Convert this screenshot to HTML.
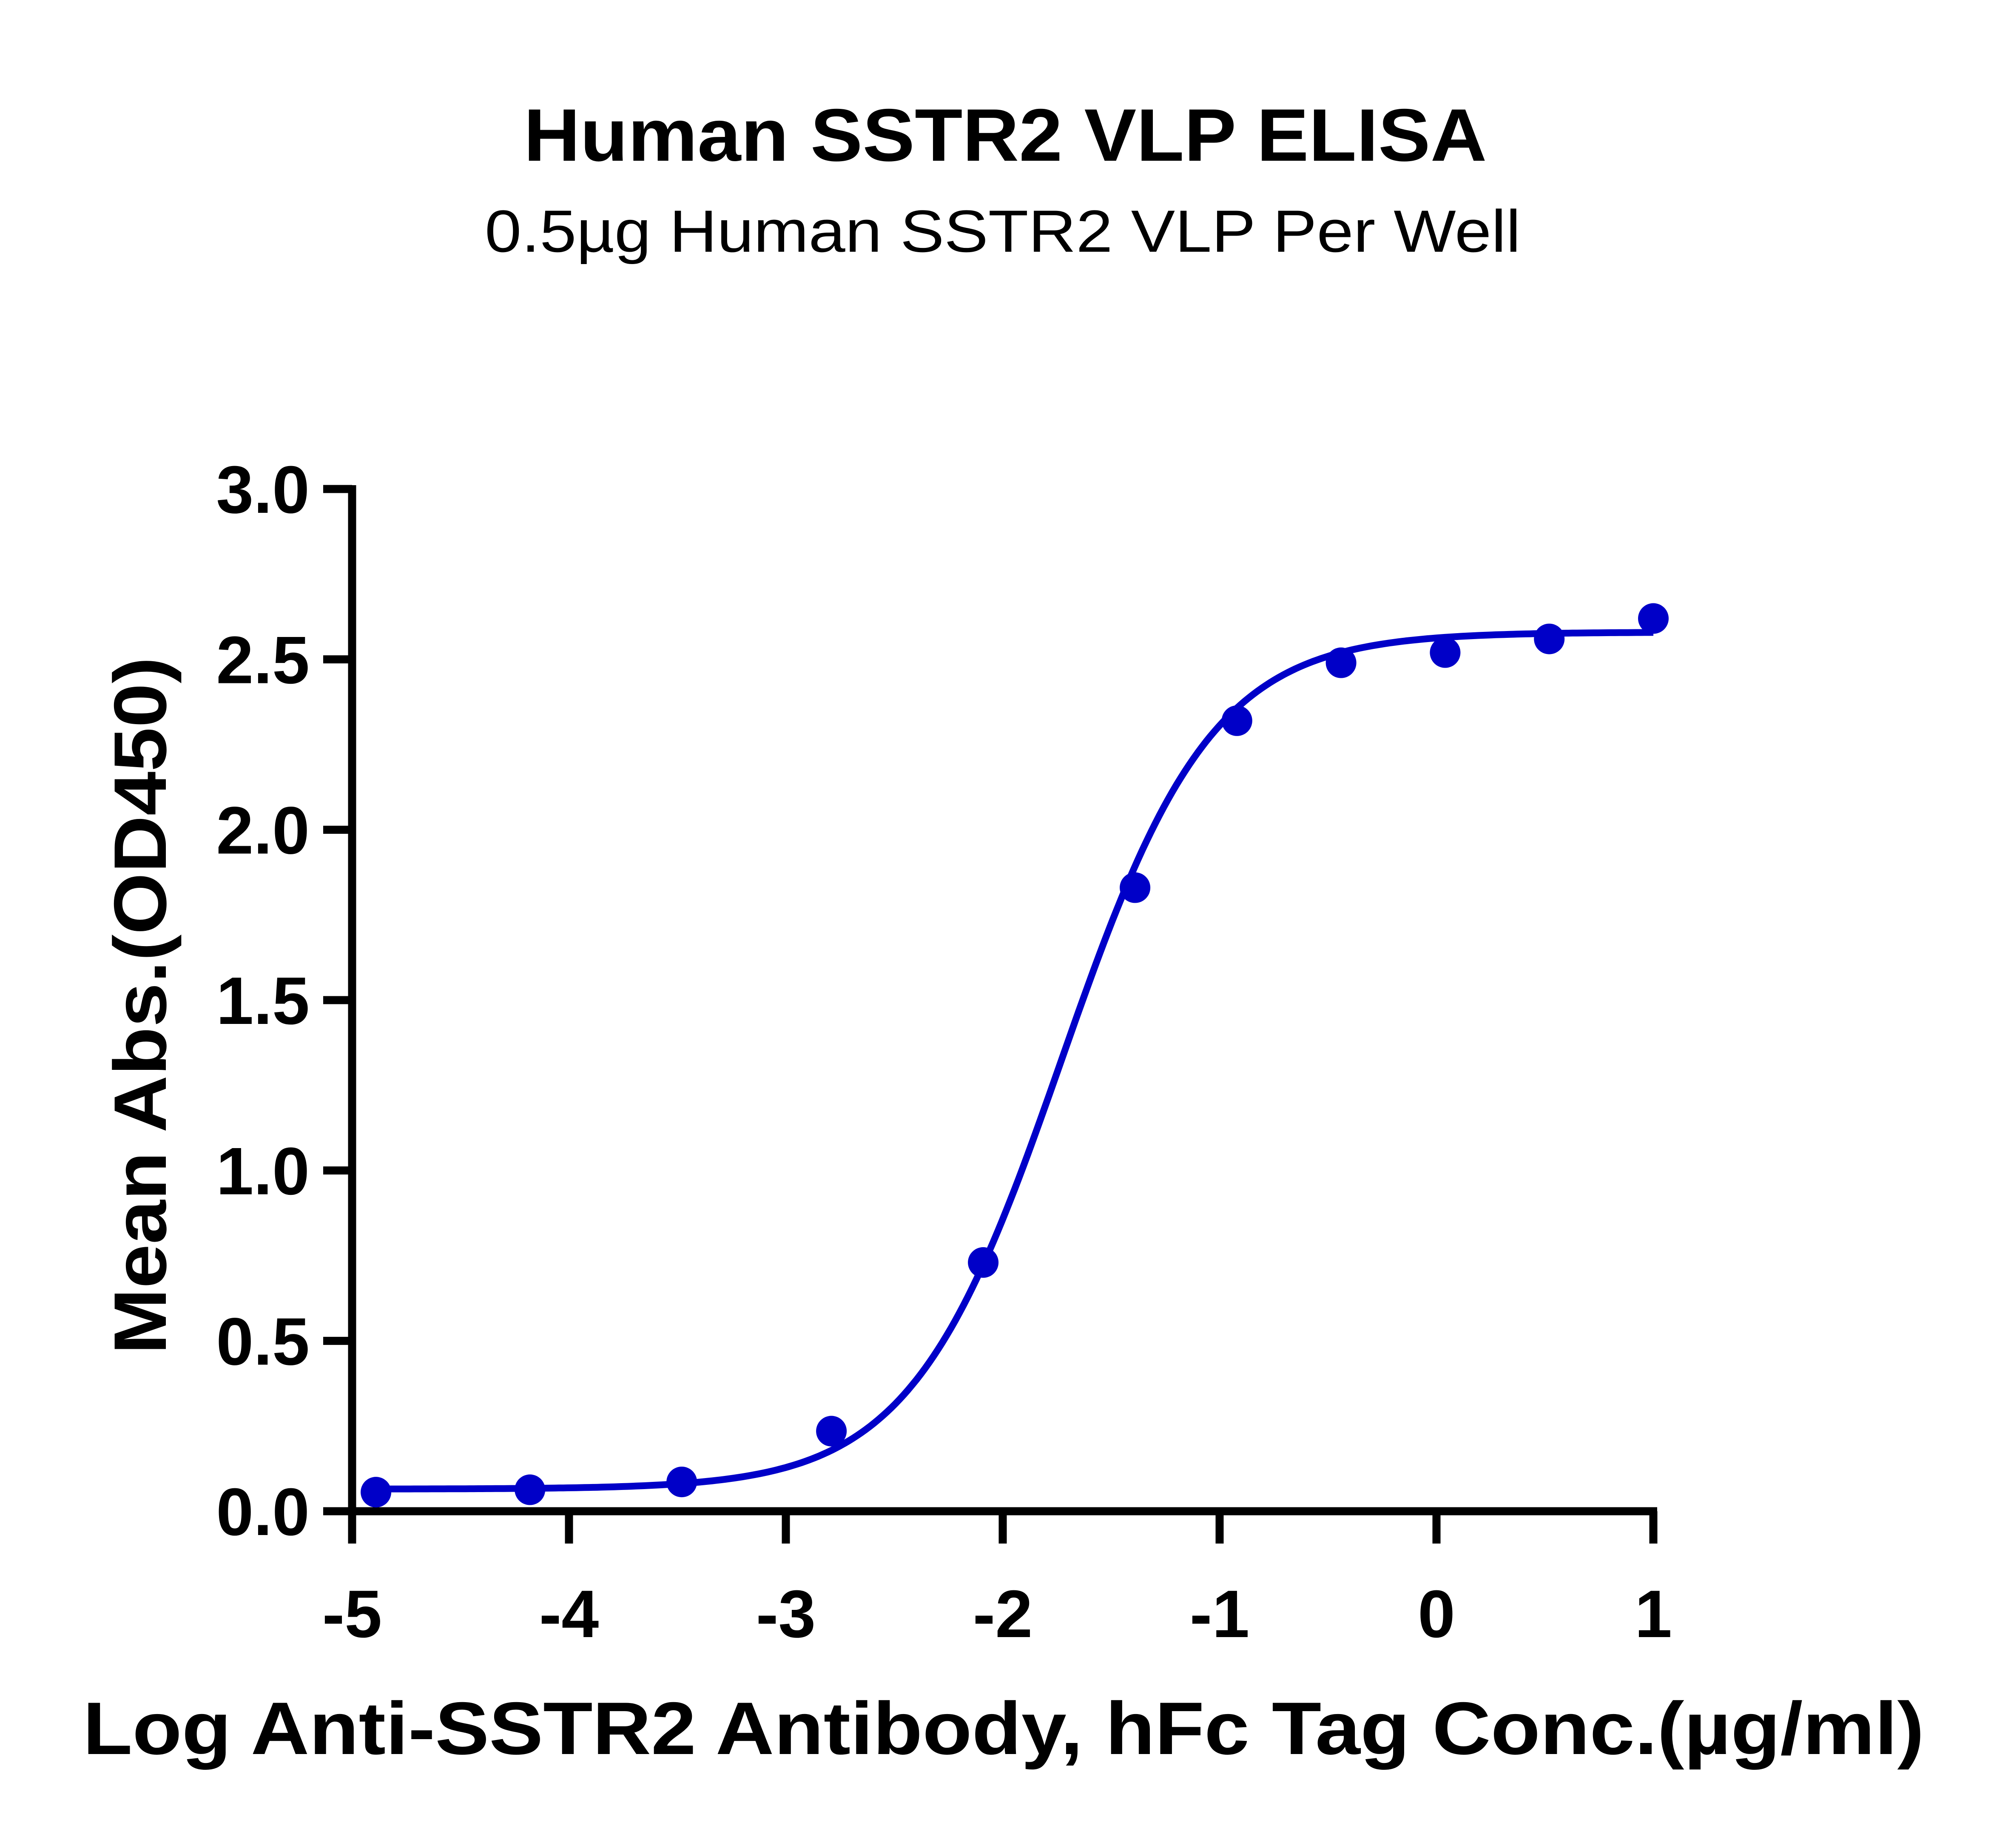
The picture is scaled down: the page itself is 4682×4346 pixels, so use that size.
<!DOCTYPE html>
<html><head><meta charset="utf-8"><style>html,body{margin:0;padding:0;background:#fff}svg{display:block}</style></head>
<body>
<svg id="chart" width="4682" height="4346" viewBox="0 0 4682 4346" xmlns="http://www.w3.org/2000/svg" font-family="'Liberation Sans', sans-serif">
<rect width="4682" height="4346" fill="#fff"/>
<text x="2364" y="378" text-anchor="middle" font-size="175" font-weight="bold" textLength="2265" lengthAdjust="spacingAndGlyphs">Human SSTR2 VLP ELISA</text>
<text x="2358" y="592" text-anchor="middle" font-size="140" textLength="2436" lengthAdjust="spacingAndGlyphs">0.5µg Human SSTR2 VLP Per Well</text>
<text transform="translate(390,2365) rotate(-90)" text-anchor="middle" font-size="175" font-weight="bold" textLength="1640" lengthAdjust="spacingAndGlyphs">Mean Abs.(OD450)</text>
<text x="2360" y="4125" text-anchor="middle" font-size="175" font-weight="bold" textLength="4330" lengthAdjust="spacingAndGlyphs">Log Anti-SSTR2 Antibody, hFc Tag Conc.(µg/ml)</text>
<g id="axes"></g>
<g id="marks"></g>
</svg>
<script>
const xTicks = [-5, -4, -3, -2, -1, 0, 1];
const yTicks = [0, 0.5, 1.0, 1.5, 2.0, 2.5, 3.0];
const yTickLabels = ["0.0", "0.5", "1.0", "1.5", "2.0", "2.5", "3.0"];
const logConc = [-4.89, -4.18, -3.48, -2.79, -2.09, -1.39, -0.92, -0.44, 0.04, 0.52, 1.0];
const meanAbs = [0.056, 0.063, 0.086, 0.235, 0.73, 1.83, 2.32, 2.49, 2.52, 2.56, 2.62];
const fitBottom = [0.065];
const fitTop = [2.58];
const fitLogEC50 = [-1.73];
const fitHill = [1.25];

const NS = "http://www.w3.org/2000/svg";
const X0 = 828, X1 = 3888, Y0 = 3554, Y1 = 1150;
const xScale = v => X0 + (v - (-5)) / 6 * (X1 - X0);
const yScale = v => Y0 - v / 3 * (Y0 - Y1);
function mk(tag, attrs, parent) {
  const e = document.createElementNS(NS, tag);
  for (const k in attrs) e.setAttribute(k, attrs[k]);
  parent.appendChild(e);
  return e;
}
const axes = document.getElementById("axes");
const marks = document.getElementById("marks");

const ya = mk("line", {x1: X0, y1: Y1 - 9, x2: X0, y2: Y0 + 9, stroke: "#000", "stroke-width": 19}, axes);


const xa = mk("line", {x1: X0 - 9, y1: Y0, x2: X1 + 9, y2: Y0, stroke: "#000", "stroke-width": 19}, axes);



yTicks.forEach((v, i) => {
  const y = yScale(v);
  const t = mk("line", {x1: 760, y1: y, x2: X0, y2: y, stroke: "#000", "stroke-width": 19}, axes);
  
  
  const l = mk("text", {x: 728, y: y + 56, "text-anchor": "end", "font-size": 158, "font-weight": "bold"}, axes);
  l.textContent = yTickLabels[i];
  
  
});
xTicks.forEach(v => {
  const x = xScale(v);
  const t = mk("line", {x1: x, y1: Y0, x2: x, y2: 3630, stroke: "#000", "stroke-width": 19}, axes);
  
  
  const l = mk("text", {x: x, y: 3850, "text-anchor": "middle", "font-size": 158, "font-weight": "bold"}, axes);
  l.textContent = String(v);
  
  
});

const fit = x => fitBottom[0] + (fitTop[0] - fitBottom[0]) / (1 + Math.pow(10, (fitLogEC50[0] - x) * fitHill[0]));
let d = "";
const xs = logConc[0], xe = logConc[logConc.length - 1];
for (let i = 0; i <= 300; i++) {
  const x = xs + (xe - xs) * i / 300;
  d += (i ? "L" : "M") + xScale(x).toFixed(1) + "," + yScale(fit(x)).toFixed(1);
}
const curve = mk("path", {d: d, fill: "none", stroke: "#0000C8", "stroke-width": 16, "stroke-linejoin": "round"}, marks);



logConc.forEach((x, i) => {
  const c = mk("circle", {cx: xScale(x), cy: yScale(meanAbs[i]), r: 36, fill: "#0000C8"}, marks);
  
  
});
</script>
</body></html>
